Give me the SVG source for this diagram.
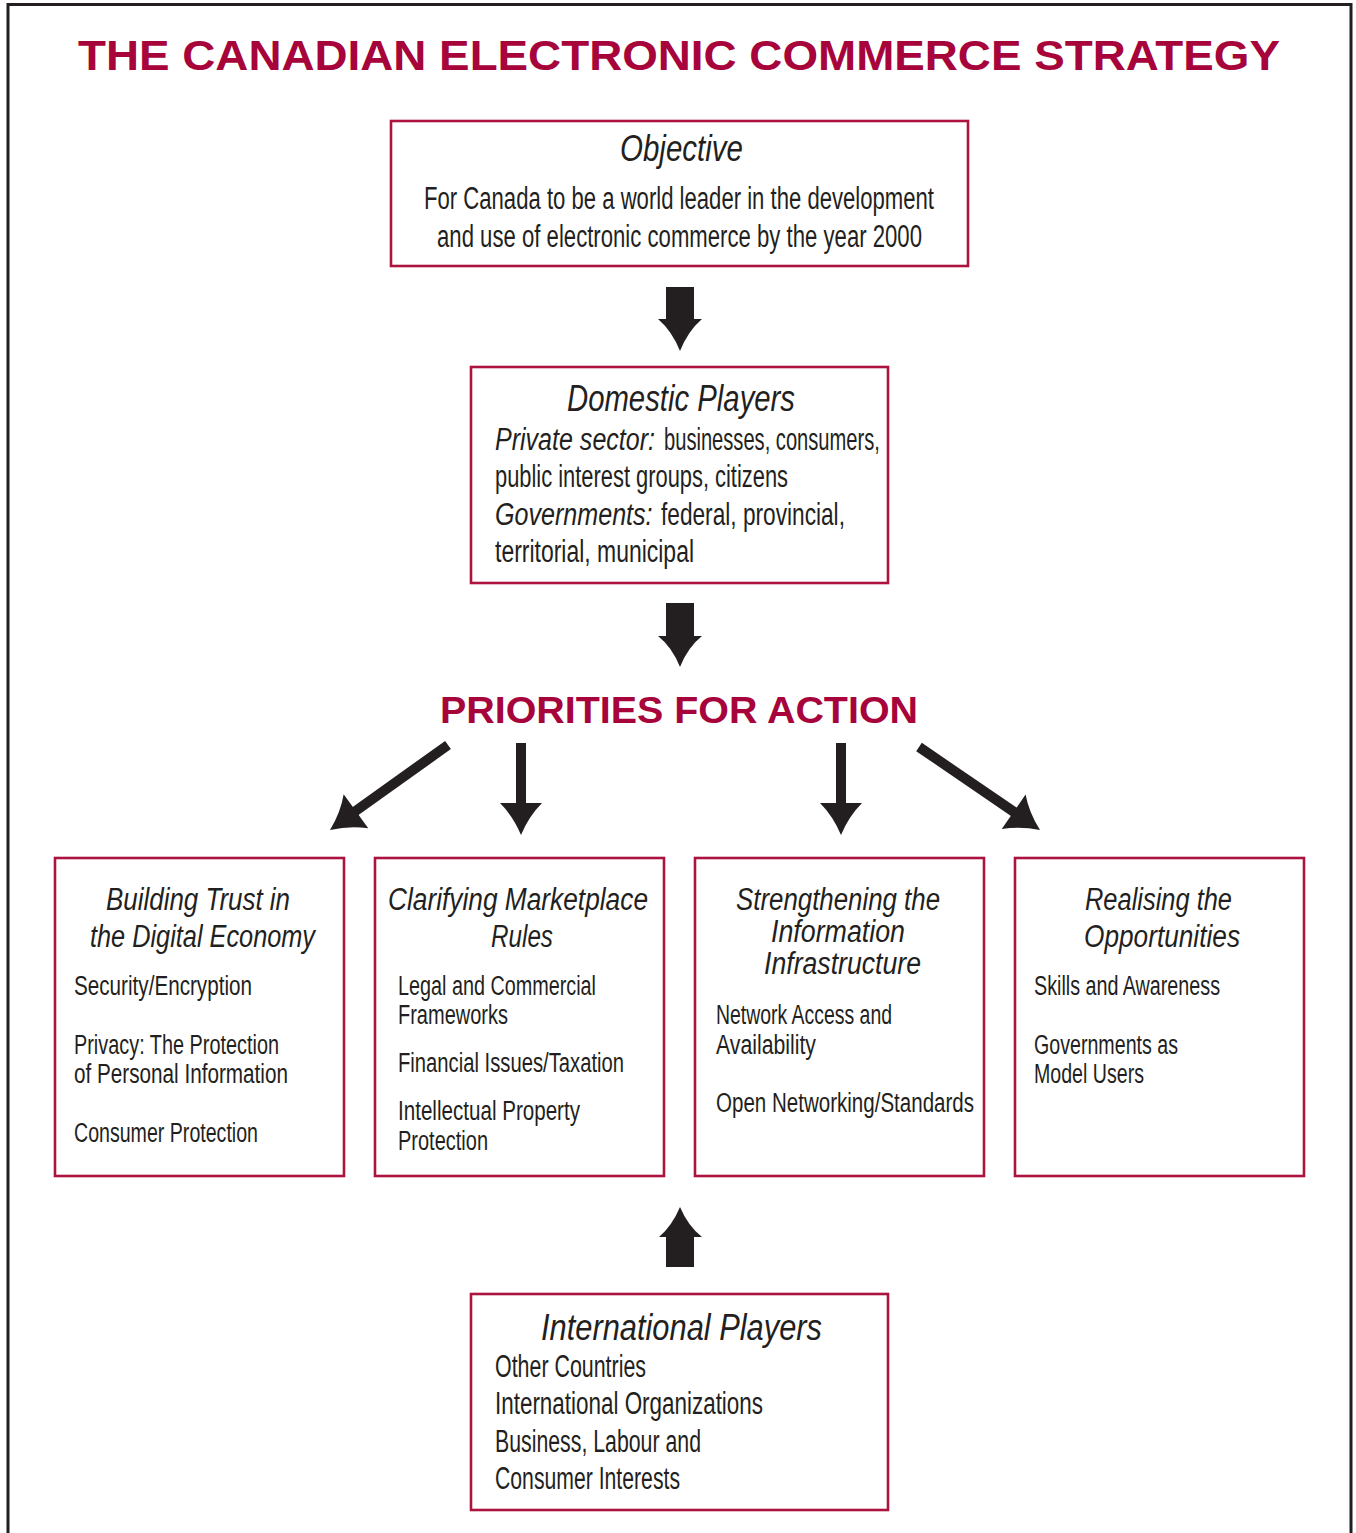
<svg xmlns="http://www.w3.org/2000/svg" width="1356" height="1533" viewBox="0 0 1356 1533">
<style>
.frame{fill:none;stroke:#231F20;stroke-width:3}
.box{fill:#fff;stroke:#AC143F;stroke-width:2.6}
.t{font-family:"Liberation Sans",Arial,sans-serif;fill:#231F20}
.hd{font-style:italic}
.red{font-family:"Liberation Sans",Arial,sans-serif;font-weight:bold;fill:#A6043A}
.shaft{stroke:#231F20;stroke-width:10;fill:none}
.ah{fill:#231F20}
</style>
<defs>
<path id="thinhead" d="M-21,-32 Q-8,-19 0,0 Q8,-19 21,-32 Z"/>
</defs>
<rect width="1356" height="1533" fill="#fff"/>
<path class="frame" d="M8,1533 V4.5 H1351 V1533"/>
<text class="red" x="78" y="70" font-size="43" textLength="1202" lengthAdjust="spacingAndGlyphs">THE CANADIAN ELECTRONIC COMMERCE STRATEGY</text>
<text class="red" x="440" y="723" font-size="36" textLength="478" lengthAdjust="spacingAndGlyphs">PRIORITIES FOR ACTION</text>

<g id="connectors">
<path class="ah" d="M666,287 H694 V319 H702 Q688,331 680,351 Q672,331 658,319 H666 Z"/>
<path class="ah" d="M666,603 H694 V636 H702 Q688,647 680,667 Q672,647 658,636 H666 Z"/>
<path class="ah" d="M666,1267 V1237 H659 Q672,1226 680,1207 Q688,1226 702,1237 H694 V1267 Z"/>
<line class="shaft" x1="521" y1="743" x2="521" y2="810"/>
<use href="#thinhead" class="ah" transform="translate(521,835)"/>
<line class="shaft" x1="841" y1="743" x2="841" y2="810"/>
<use href="#thinhead" class="ah" transform="translate(841,835)"/>
<line class="shaft" x1="448" y1="745" x2="350" y2="815"/>
<use href="#thinhead" class="ah" transform="translate(330,830) rotate(54.2)"/>
<line class="shaft" x1="919" y1="747" x2="1020" y2="816"/>
<use href="#thinhead" class="ah" transform="translate(1040,830) rotate(-55.4)"/>
</g>

<g id="objective">
<rect class="box" x="391" y="121" width="577" height="145"/>
<text class="t hd" x="681.5" y="161" font-size="36" text-anchor="middle" textLength="123" lengthAdjust="spacingAndGlyphs">Objective</text>
<text class="t" x="424" y="209" font-size="31" textLength="510" lengthAdjust="spacingAndGlyphs">For Canada to be a world leader in the development</text>
<text class="t" x="437" y="247" font-size="31" textLength="485" lengthAdjust="spacingAndGlyphs">and use of electronic commerce by the year 2000</text>
</g>

<g id="domestic">
<rect class="box" x="471" y="367" width="417" height="216"/>
<text class="t hd" x="681" y="411" font-size="37" text-anchor="middle" textLength="228" lengthAdjust="spacingAndGlyphs">Domestic Players</text>
<text class="t hd" transform="translate(495,450) scale(0.8,1)" font-size="31" textLength="200" lengthAdjust="spacingAndGlyphs">Private sector:</text>
<text class="t" transform="translate(664,450) scale(0.65,1)" font-size="31" textLength="332" lengthAdjust="spacingAndGlyphs">businesses, consumers,</text>
<text class="t" x="495" y="487" font-size="31" textLength="293" lengthAdjust="spacingAndGlyphs">public interest groups, citizens</text>
<text class="t hd" transform="translate(495,525) scale(0.8,1)" font-size="31" textLength="197" lengthAdjust="spacingAndGlyphs">Governments:</text>
<text class="t" transform="translate(661,525) scale(0.73,1)" font-size="31" textLength="252" lengthAdjust="spacingAndGlyphs">federal, provincial,</text>
<text class="t" x="495" y="562" font-size="31" textLength="199" lengthAdjust="spacingAndGlyphs">territorial, municipal</text>
</g>

<g id="trust">
<rect class="box" x="55" y="858" width="289" height="318"/>
<text class="t hd" x="198" y="910" font-size="31" text-anchor="middle" textLength="184" lengthAdjust="spacingAndGlyphs">Building Trust in</text>
<text class="t hd" x="202.5" y="947" font-size="31" text-anchor="middle" textLength="225" lengthAdjust="spacingAndGlyphs">the Digital Economy</text>
<text class="t" x="74" y="995" font-size="27" textLength="178" lengthAdjust="spacingAndGlyphs">Security/Encryption</text>
<text class="t" x="74" y="1054" font-size="27" textLength="205" lengthAdjust="spacingAndGlyphs">Privacy: The Protection</text>
<text class="t" x="74" y="1083" font-size="27" textLength="214" lengthAdjust="spacingAndGlyphs">of Personal Information</text>
<text class="t" x="74" y="1142" font-size="27" textLength="184" lengthAdjust="spacingAndGlyphs">Consumer Protection</text>
</g>

<g id="marketplace">
<rect class="box" x="375" y="858" width="289" height="318"/>
<text class="t hd" x="518" y="910" font-size="31" text-anchor="middle" textLength="260" lengthAdjust="spacingAndGlyphs">Clarifying Marketplace</text>
<text class="t hd" x="522" y="947" font-size="31" text-anchor="middle" textLength="62" lengthAdjust="spacingAndGlyphs">Rules</text>
<text class="t" x="398" y="995" font-size="27" textLength="198" lengthAdjust="spacingAndGlyphs">Legal and Commercial</text>
<text class="t" x="398" y="1024" font-size="27" textLength="110" lengthAdjust="spacingAndGlyphs">Frameworks</text>
<text class="t" x="398" y="1072" font-size="27" textLength="226" lengthAdjust="spacingAndGlyphs">Financial Issues/Taxation</text>
<text class="t" x="398" y="1120" font-size="27" textLength="182" lengthAdjust="spacingAndGlyphs">Intellectual Property</text>
<text class="t" x="398" y="1150" font-size="27" textLength="90" lengthAdjust="spacingAndGlyphs">Protection</text>
</g>

<g id="infrastructure">
<rect class="box" x="695" y="858" width="289" height="318"/>
<text class="t hd" x="838" y="910" font-size="31" text-anchor="middle" textLength="204" lengthAdjust="spacingAndGlyphs">Strengthening the</text>
<text class="t hd" x="838" y="942" font-size="31" text-anchor="middle" textLength="134" lengthAdjust="spacingAndGlyphs">Information</text>
<text class="t hd" x="842.5" y="974" font-size="31" text-anchor="middle" textLength="157" lengthAdjust="spacingAndGlyphs">Infrastructure</text>
<text class="t" x="716" y="1024" font-size="27" textLength="176" lengthAdjust="spacingAndGlyphs">Network Access and</text>
<text class="t" x="716" y="1054" font-size="27" textLength="100" lengthAdjust="spacingAndGlyphs">Availability</text>
<text class="t" x="716" y="1112" font-size="27" textLength="258" lengthAdjust="spacingAndGlyphs">Open Networking/Standards</text>
</g>

<g id="opportunities">
<rect class="box" x="1015" y="858" width="289" height="318"/>
<text class="t hd" x="1158.5" y="910" font-size="31" text-anchor="middle" textLength="147" lengthAdjust="spacingAndGlyphs">Realising the</text>
<text class="t hd" x="1162" y="947" font-size="31" text-anchor="middle" textLength="156" lengthAdjust="spacingAndGlyphs">Opportunities</text>
<text class="t" x="1034" y="995" font-size="27" textLength="186" lengthAdjust="spacingAndGlyphs">Skills and Awareness</text>
<text class="t" x="1034" y="1054" font-size="27" textLength="144" lengthAdjust="spacingAndGlyphs">Governments as</text>
<text class="t" x="1034" y="1083" font-size="27" textLength="110" lengthAdjust="spacingAndGlyphs">Model Users</text>
</g>

<g id="international">
<rect class="box" x="471" y="1294" width="417" height="216"/>
<text class="t hd" x="681.5" y="1340" font-size="37" text-anchor="middle" textLength="281" lengthAdjust="spacingAndGlyphs">International Players</text>
<text class="t" x="495" y="1377" font-size="31" textLength="151" lengthAdjust="spacingAndGlyphs">Other Countries</text>
<text class="t" x="495" y="1414" font-size="31" textLength="268" lengthAdjust="spacingAndGlyphs">International Organizations</text>
<text class="t" x="495" y="1452" font-size="31" textLength="206" lengthAdjust="spacingAndGlyphs">Business, Labour and</text>
<text class="t" x="495" y="1489" font-size="31" textLength="185" lengthAdjust="spacingAndGlyphs">Consumer Interests</text>
</g>
</svg>
